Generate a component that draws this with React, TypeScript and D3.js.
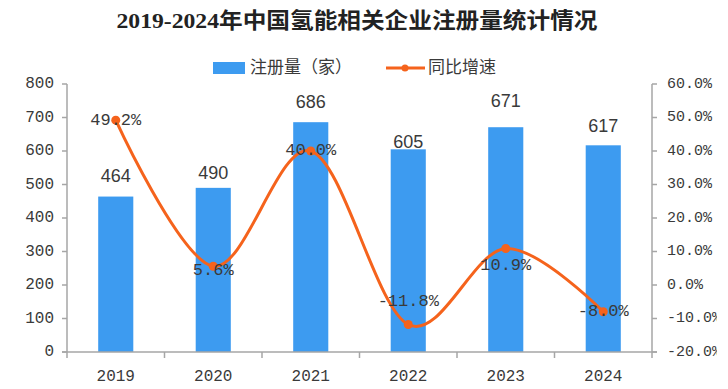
import * as d3 from 'd3';

const years = ['2019', '2020', '2021', '2022', '2023', '2024'];
const registrations = [464, 490, 686, 605, 671, 617];
const growth = [49.2, 5.6, 40.0, -11.8, 10.9, -8.0];
const leftTicks = [0, 100, 200, 300, 400, 500, 600, 700, 800];
const rightTicks = [-20, -10, 0, 10, 20, 30, 40, 50, 60];

// label nudges (px)
const barLabelLift = [19, 14, 19, 6, 25, 18];
const growthLabelDy = [0, 4, 0, -23, 17, 0];

const W = 728;
const H = 389;
const BLUE = '#3d9bf0';
const ORANGE = '#f5631c';
const AXIS = '#a6a6a6';
const TEXT = '#3a3a3a';
const MONO = '"Liberation Mono", "DejaVu Sans Mono", monospace';
const CJK = '"Noto Sans CJK SC", sans-serif';

const App = () => {
  const left = 67;
  const right = 652;
  const top = 84;
  const bottom = 352;

  const x = d3.scaleBand<string>().domain(years).range([left, right]).padding(0);
  const yL = d3.scaleLinear().domain([0, 800]).range([bottom, top]);
  const yR = d3.scaleLinear().domain([-20, 60]).range([bottom, top]);
  const barW = x.bandwidth() * 0.36;
  const cx = (y: string) => (x(y) as number) + x.bandwidth() / 2;

  const line = d3
    .line<number>()
    .x((d, i) => cx(years[i]))
    .y((d) => yR(d))
    .curve(d3.curveCardinal.tension(0));

  const bounds = years.map((y) => x(y) as number).concat([right]);

  return (
    <svg
      width={W}
      height={H}
      style={{ position: 'absolute', left: 0, top: 0, background: '#fff' }}
    >
      <defs>
        <clipPath id="clipR">
          <rect x={0} y={0} width={717} height={H} />
        </clipPath>
      </defs>
      <rect x={0} y={0} width={W} height={H} fill="#fff" />

      {/* titulo */}
      <text
        x={357}
        y={23}
        textAnchor="middle"
        dominantBaseline="middle"
        fontFamily={'"Liberation Serif", ' + CJK}
        fontWeight="bold"
        fontSize={22}
        fill="#222"
        textLength={481}
        lengthAdjust="spacingAndGlyphs"
      >
        2019-2024年中国氢能相关企业注册量统计情况
      </text>

      {/* leyenda */}
      <rect x={213} y={62} width={32} height={12} fill={BLUE} />
      <text x={250} y={68} dominantBaseline="middle" fontFamily={CJK} fontSize={17} fill={TEXT}>
        注册量（家）
      </text>
      <line x1={386} x2={425} y1={68} y2={68} stroke={ORANGE} strokeWidth={3} />
      <circle cx={405} cy={68} r={3.5} fill={ORANGE} />
      <text x={428} y={68} dominantBaseline="middle" fontFamily={CJK} fontSize={17} fill={TEXT}>
        同比增速
      </text>

      {/* barras */}
      {registrations.map((v, i) => (
        <rect
          key={'b' + i}
          x={cx(years[i]) - barW / 2}
          y={yL(v)}
          width={barW}
          height={yL(0) - yL(v)}
          fill={BLUE}
        />
      ))}

      {/* ejes */}
      <line x1={left} x2={left} y1={top} y2={bottom} stroke={AXIS} strokeWidth={1.5} />
      <line x1={right} x2={right} y1={top} y2={bottom} stroke={AXIS} strokeWidth={1.5} />
      <line x1={left - 5} x2={right + 5} y1={bottom} y2={bottom} stroke={AXIS} strokeWidth={1.5} />
      {leftTicks.map((t) => (
        <g key={'l' + t}>
          <line x1={left - 5} x2={left} y1={yL(t)} y2={yL(t)} stroke={AXIS} strokeWidth={1.5} />
          <text
            x={54}
            y={yL(t)}
            textAnchor="end"
            dominantBaseline="middle"
            fontFamily={MONO}
            fontSize={16}
            fill={TEXT}
          >
            {t}
          </text>
        </g>
      ))}
      <g clipPath="url(#clipR)">
        {rightTicks.map((t) => (
          <g key={'r' + t}>
            <line x1={right} x2={right + 5} y1={yR(t)} y2={yR(t)} stroke={AXIS} strokeWidth={1.5} />
            <text
              x={667}
              y={yR(t)}
              dominantBaseline="middle"
              fontFamily={MONO}
              fontSize={15}
              fill={TEXT}
            >
              {t.toFixed(1) + '%'}
            </text>
          </g>
        ))}
      </g>
      {bounds.map((b, i) => (
        <line key={'t' + i} x1={b} x2={b} y1={bottom} y2={bottom + 6} stroke={AXIS} strokeWidth={1.5} />
      ))}
      {years.map((y) => (
        <text
          key={'x' + y}
          x={cx(y)}
          y={377}
          textAnchor="middle"
          dominantBaseline="middle"
          fontFamily={MONO}
          fontSize={16}
          fill={TEXT}
        >
          {y}
        </text>
      ))}

      {/* etiquetas de barras */}
      {registrations.map((v, i) => (
        <text
          key={'bl' + i}
          x={cx(years[i])}
          y={yL(v) - barLabelLift[i]}
          textAnchor="middle"
          dominantBaseline="middle"
          fontFamily='"Liberation Sans", Arial, sans-serif'
          fontSize={18}
          fill={TEXT}
        >
          {v}
        </text>
      ))}

      {/* linea de crecimiento */}
      <path d={line(growth) || ''} fill="none" stroke={ORANGE} strokeWidth={3} />
      {growth.map((g, i) => (
        <circle key={'p' + i} cx={cx(years[i])} cy={yR(g)} r={4.5} fill={ORANGE} />
      ))}
      {growth.map((g, i) => (
        <text
          key={'gl' + i}
          x={cx(years[i])}
          y={yR(g) + growthLabelDy[i]}
          textAnchor="middle"
          dominantBaseline="middle"
          fontFamily={MONO}
          fontSize={17}
          fill={TEXT}
        >
          {g.toFixed(1) + '%'}
        </text>
      ))}
    </svg>
  );
};

export default App;
